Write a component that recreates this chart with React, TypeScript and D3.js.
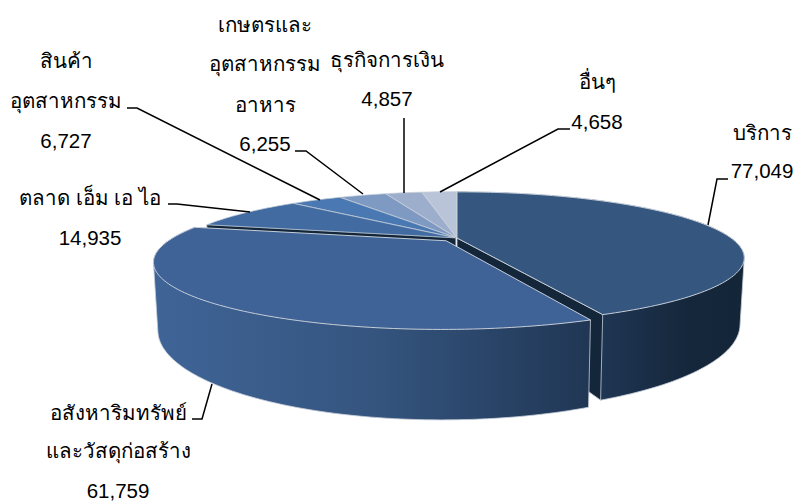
import React from "react";
import * as d3 from "d3";

const categories = ["บริการ", "อสังหาริมทรัพย์ และวัสดุก่อสร้าง", "ตลาด เอ็ม เอ ไอ", "สินค้าอุตสาหกรรม", "เกษตรและอุตสาหกรรมอาหาร", "ธุรกิจการเงิน", "อื่นๆ"];
const values = [77049, 61759, 14935, 6727, 6255, 4857, 4658];
const valueLabels = ["77,049", "61,759", "14,935", "6,727", "6,255", "4,857", "4,658"];
const nameLines = [["บริการ"], ["อสังหาริมทรัพย์", "และวัสดุก่อสร้าง"], ["ตลาด เอ็ม เอ ไอ"], ["สินค้า", "อุตสาหกรรม"], ["เกษตรและ", "อุตสาหกรรม", "อาหาร"], ["ธุรกิจการเงิน"], ["อื่นๆ"]];

const topColors = ["#35577f", "#3f6397", "#426ca1", "#4a78b2", "#7f9ac2", "#9dadcc", "#bac4d9"];
const explode = [0, 0.06, 0.006, 0.006, 0.006, 0.006, 0.006];
const labelCenters = [762, 118, 90, 66, 265, 387, 597];
const labelBaselines = [[140, 178], [420, 458, 498], [205, 245], [68, 108, 148], [32, 71, 112, 151], [67, 106], [89, 129]];
const leaders: [number, number][][] = [
  [[728, 179], [717, 179], [708, 225]],
  [[192, 419], [202, 419], [212, 384]],
  [[168, 204], [177, 204], [250, 212]],
  [[127, 108], [137, 108], [320, 200]],
  [[295, 151], [306, 151], [363, 194]],
  [[404, 118], [404, 193]],
  [[570, 129], [558, 129], [440, 192]],
];

const persp = 0.3;
const cx = 457;
const xTop = d3.scaleLinear().domain([-1, 1]).range([cx - 274, cx + 274]);
const xBottom = d3.scaleLinear().domain([-1, 1]).range([cx - 270, cx + 270]);
const yTop = d3.scaleLinear().domain([-1, 1]).range([238 + 60, 238 - 60]);
const yBottom = d3.scaleLinear().domain([-1, 1]).range([298 + 80, 298 - 80]);

type P = [number, number];
const project = (a: number, e: number, mid: number, bottom: boolean, radius = 1): P => {
  const u = radius * Math.sin(a) + e * Math.sin(mid);
  const v = radius * Math.cos(a) + e * Math.cos(mid);
  const w = 1 + persp * v;
  return [(bottom ? xBottom : xTop)(u / w), (bottom ? yBottom : yTop)(v / w)];
};

const pieGen = d3.pie<number>().sort(null).startAngle(0).endAngle(2 * Math.PI);
const arcs = pieGen(values);
const line = d3.line<P>();
const rim = (s: number, t: number, e: number, mid: number, bottom: boolean): P[] => {
  const n = Math.max(4, Math.ceil((t - s) / 0.02));
  return d3.range(n + 1).map((i) => project(s + ((t - s) * i) / n, e, mid, bottom));
};

const font = "'Liberation Sans', Arial, 'Noto Sans', sans-serif";
const edge = "#c6ced9";

export default function App() {
  const drawOrder = [6, 5, 4, 3, 2, 0, 1];
  return (
    <svg width={795} height={502} style={{ position: "absolute", left: 0, top: 0, background: "#fff" }} fontFamily={font}>
      <defs>
        <linearGradient id="wall0" gradientUnits="userSpaceOnUse" x1={600} x2={745} y1={0} y2={0}>
          <stop offset="0" stopColor="#1f3654" />
          <stop offset="0.6" stopColor="#15273b" />
          <stop offset="1" stopColor="#142538" />
        </linearGradient>
        <linearGradient id="wall1" gradientUnits="userSpaceOnUse" x1={155} x2={592} y1={0} y2={0}>
          <stop offset="0" stopColor="#3f6497" />
          <stop offset="0.5" stopColor="#35557f" />
          <stop offset="1" stopColor="#203654" />
        </linearGradient>
      </defs>
      {drawOrder.map((i) => {
        const d = arcs[i];
        const mid = (d.startAngle + d.endAngle) / 2;
        const e = explode[i];
        const topArc = rim(d.startAngle, d.endAngle, e, mid, false);
        const bottomArc = rim(d.startAngle, d.endAngle, e, mid, true);
        const apexT = project(0, e, mid, false, 0);
        const apexB = project(0, e, mid, true, 0);
        const cutEnd = [apexT, project(d.endAngle, e, mid, false), project(d.endAngle, e, mid, true), apexB] as P[];
        const cutStart = [apexT, project(d.startAngle, e, mid, false), project(d.startAngle, e, mid, true), apexB] as P[];
        const hull = d3.polygonHull([...topArc, ...bottomArc])!;
        return (
          <g key={categories[i]}>
            {i === 0 && <path d={line(hull)! + "Z"} fill="url(#wall0)" stroke={edge} strokeWidth={0.8} />}
            {i === 0 && <path d={line(cutEnd)! + "Z"} fill="#14263a" stroke={edge} strokeWidth={0.8} />}
            {i === 2 && <path d={line(cutStart)! + "Z"} fill="#14263a" stroke="#6f7f92" strokeWidth={0.8} />}
            {i === 1 && <path d={line(hull)! + "Z"} fill="url(#wall1)" stroke={edge} strokeWidth={0.8} />}
            <path d={line([apexT, ...topArc])! + "Z"} fill={topColors[i]} stroke={edge} strokeWidth={i === 0 || i === 1 ? 1 : 0.7} strokeLinejoin="round" />
          </g>
        );
      })}
      {leaders.map((pts, i) => (
        <path key={i} d={line(pts)!} fill="none" stroke="#000" strokeWidth={1.5} />
      ))}
      {categories.map((c, i) => {
        const rows = [...nameLines[i], valueLabels[i]];
        return (
          <text key={c} textAnchor="middle" fontSize={20.5} fill="#000">
            {rows.map((r, j) => (
              <tspan key={j} x={labelCenters[i]} y={labelBaselines[i][j]}>{r}</tspan>
            ))}
          </text>
        );
      })}
    </svg>
  );
}
